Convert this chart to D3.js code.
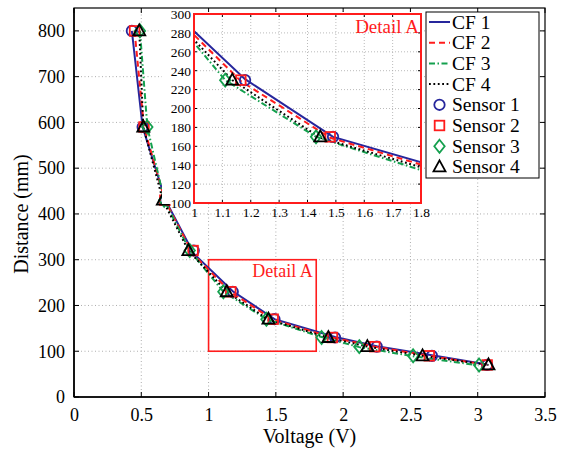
<!DOCTYPE html>
<html><head><meta charset="utf-8">
<script src="https://cdn.jsdelivr.net/npm/d3@7"></script>
<style>
html,body{margin:0;padding:0;background:#fff;}
svg{display:block;}
svg text{font-family:"Liberation Serif","Times New Roman",serif !important;}
</style></head>
<body><svg id="c" width="565" height="451"></svg>
<script>
// ---- data ----
const distance = [800, 590, 430, 320, 230, 170, 130, 110, 90, 70];
const voltS1 = [0.43, 0.51, 0.68, 0.89, 1.18, 1.49, 1.94, 2.25, 2.66, 3.07];
const voltS2 = [0.45, 0.52, 0.675, 0.885, 1.165, 1.48, 1.92, 2.235, 2.64, 3.07];
const voltS3 = [0.49, 0.545, 0.67, 0.86, 1.11, 1.43, 1.84, 2.12, 2.52, 3.01];
const voltS4 = [0.485, 0.515, 0.66, 0.85, 1.135, 1.445, 1.89, 2.18, 2.59, 3.08];
const fitCF1 = [800, 590, 430, 313, 231, 170, 131, 111, 91, 71];
const fitCF2 = [800, 590, 430, 312, 229, 169, 130, 110, 90, 70];
const fitCF3 = [800, 590, 430, 320, 230, 170, 131, 109, 89, 69];
const fitCF4 = [800, 590, 430, 320, 230, 169, 130, 110, 90, 70];
const xTicks = [0, 0.5, 1, 1.5, 2, 2.5, 3, 3.5];
const yTicks = [0, 100, 200, 300, 400, 500, 600, 700, 800];
const insetXTicks = [1, 1.1, 1.2, 1.3, 1.4, 1.5, 1.6, 1.7, 1.8];
const insetYTicks = [100, 120, 140, 160, 180, 200, 220, 240, 260, 280, 300];
const detailBox = {x0: 1, x1: 1.8, y0: 100, y1: 300};
const seriesNames = ["CF 1","CF 2","CF 3","CF 4","Sensor 1","Sensor 2","Sensor 3","Sensor 4"];

const blue = "#26269c", red = "#ff1c1c", green = "#14a04e", black = "#000";
const cfStyles = [
  {c: blue, dash: null},
  {c: red, dash: "6,4"},
  {c: green, dash: "6,2.5,1.5,2.5"},
  {c: black, dash: "1.8,2.6"}
];
const sensors = [
  {v: voltS1, c: blue, sym: "circle"},
  {v: voltS2, c: red, sym: "square"},
  {v: voltS3, c: green, sym: "diamond"},
  {v: voltS4, c: black, sym: "triangle"}
];
const cfs = [
  {v: voltS1, d: fitCF1}, {v: voltS2, d: fitCF2}, {v: voltS3, d: fitCF3}, {v: voltS4, d: fitCF4}
];

const svg = d3.select("#c");
const X0 = 74, X1 = 545, Y0 = 397, Y1 = 8;
const x = d3.scaleLinear().domain([0, 3.5]).range([X0, X1]);
const y = d3.scaleLinear().domain([0, 850]).range([Y0, Y1]);

function marker(g, sym, cx, cy, color) {
  if (sym === "circle") {
    g.append("circle").attr("cx", cx).attr("cy", cy).attr("r", 5.2)
      .attr("fill", "none").attr("stroke", color).attr("stroke-width", 1.8);
  } else if (sym === "square") {
    g.append("rect").attr("x", cx - 4.8).attr("y", cy - 4.8).attr("width", 9.6).attr("height", 9.6)
      .attr("fill", "none").attr("stroke", color).attr("stroke-width", 1.8);
  } else if (sym === "diamond") {
    g.append("path").attr("d", `M${cx},${cy-6.5}L${cx+5.2},${cy}L${cx},${cy+6.5}L${cx-5.2},${cy}Z`)
      .attr("fill", "none").attr("stroke", color).attr("stroke-width", 1.8);
  } else {
    g.append("path").attr("d", `M${cx},${cy-6.5}L${cx+6},${cy+4.5}L${cx-6},${cy+4.5}Z`)
      .attr("fill", "none").attr("stroke", color).attr("stroke-width", 1.8);
  }
}

// main grid
const grid = svg.append("g");
xTicks.slice(1, -1).forEach(t => grid.append("line").attr("x1", x(t)).attr("x2", x(t)).attr("y1", Y0).attr("y2", Y1)
  .attr("stroke", "#999").attr("stroke-width", 0.8).attr("stroke-dasharray", "1,2.5"));
yTicks.slice(1).forEach(t => grid.append("line").attr("x1", X0).attr("x2", X1).attr("y1", y(t)).attr("y2", y(t))
  .attr("stroke", "#999").attr("stroke-width", 0.8).attr("stroke-dasharray", "1,2.5"));

// axes
const xAxis = svg.append("g").attr("transform", `translate(0,${Y0})`)
  .call(d3.axisBottom(x).tickValues(xTicks).tickSize(0).tickPadding(11).tickFormat(d3.format("")));
const yAxis = svg.append("g").attr("transform", `translate(${X0},0)`)
  .call(d3.axisLeft(y).tickValues(yTicks).tickSize(0).tickPadding(9).tickFormat(d3.format("")));
[xAxis, yAxis].forEach(a => {
  a.attr("font-family", null).attr("font-size", null);
  a.select(".domain").remove();
  a.selectAll("text").style("font-size", "18px").attr("fill", "#000");
});
// inward ticks all sides
const tk = svg.append("g").attr("stroke", "#000").attr("stroke-width", 1);
xTicks.forEach(t => {
  tk.append("line").attr("x1", x(t)).attr("x2", x(t)).attr("y1", Y0).attr("y2", Y0 - 5);
  tk.append("line").attr("x1", x(t)).attr("x2", x(t)).attr("y1", Y1).attr("y2", Y1 + 5);
});
yTicks.forEach(t => {
  tk.append("line").attr("x1", X0).attr("x2", X0 + 5).attr("y1", y(t)).attr("y2", y(t));
  tk.append("line").attr("x1", X1).attr("x2", X1 - 5).attr("y1", y(t)).attr("y2", y(t));
});

// detail box
svg.append("rect").attr("x", x(detailBox.x0)).attr("y", y(detailBox.y1))
  .attr("width", x(detailBox.x1) - x(detailBox.x0)).attr("height", y(detailBox.y0) - y(detailBox.y1))
  .attr("fill", "none").attr("stroke", red).attr("stroke-width", 1.6);
svg.append("text").attr("x", x(1.55)).attr("y", y(263)).attr("text-anchor", "middle")
  .style("font-size", "18px").attr("fill", red).text("Detail A");

// main lines & markers
function drawSeries(g, xs, ys) {
  cfs.forEach((cf, i) => {
    const line = d3.line().x((d, j) => xs(cf.v[j])).y(d => ys(d));
    g.append("path").attr("d", line(cf.d)).attr("fill", "none")
      .attr("stroke", cfStyles[i].c).attr("stroke-width", 2)
      .attr("stroke-dasharray", cfStyles[i].dash);
  });
  sensors.forEach(s => {
    s.v.forEach((v, j) => marker(g, s.sym, xs(v), ys(distance[j]), s.c));
  });
}
const mainG = svg.append("g");
drawSeries(mainG, x, y);

// frame
svg.append("rect").attr("x", X0).attr("y", Y1).attr("width", X1 - X0).attr("height", Y0 - Y1)
  .attr("fill", "none").attr("stroke", "#000").attr("stroke-width", 1.2);
svg.append("line").attr("x1", X0).attr("x2", X1).attr("y1", Y0).attr("y2", Y0).attr("stroke", "#000").attr("stroke-width", 1.6);
svg.append("line").attr("x1", X0).attr("x2", X0).attr("y1", Y1).attr("y2", Y0).attr("stroke", "#000").attr("stroke-width", 1.6);

// axis titles
svg.append("text").attr("x", (X0 + X1) / 2).attr("y", 443).attr("text-anchor", "middle")
  .style("font-size", "20px").text("Voltage (V)");
svg.append("text").attr("transform", `translate(28,214) rotate(-90)`).attr("text-anchor", "middle")
  .style("font-size", "20px").text("Distance (mm)");

// ---- inset ----
const IX0 = 194, IX1 = 421, IY0 = 203, IY1 = 14;
svg.append("rect").attr("x", 162).attr("y", 12).attr("width", IX1 - 162 + 2).attr("height", IY0 - 12 + 1).attr("fill", "#fff");
const ix = d3.scaleLinear().domain([1, 1.8]).range([IX0, IX1]);
const iy = d3.scaleLinear().domain([100, 300]).range([IY0, IY1]);
const ig = svg.append("g");
insetXTicks.slice(1, -1).forEach(t => ig.append("line").attr("x1", ix(t)).attr("x2", ix(t)).attr("y1", IY0).attr("y2", IY1)
  .attr("stroke", "#aaa").attr("stroke-width", 0.8).attr("stroke-dasharray", "1,2"));
insetYTicks.slice(1, -1).forEach(t => ig.append("line").attr("x1", IX0).attr("x2", IX1).attr("y1", iy(t)).attr("y2", iy(t))
  .attr("stroke", "#aaa").attr("stroke-width", 0.8).attr("stroke-dasharray", "1,2"));
const ixAxis = svg.append("g").attr("transform", `translate(0,${IY0})`)
  .call(d3.axisBottom(ix).tickValues(insetXTicks).tickSize(0).tickPadding(4).tickFormat(d3.format("")));
const iyAxis = svg.append("g").attr("transform", `translate(${IX0},0)`)
  .call(d3.axisLeft(iy).tickValues(insetYTicks).tickSize(0).tickPadding(3).tickFormat(d3.format("")));
[ixAxis, iyAxis].forEach(a => {
  a.attr("font-family", null).attr("font-size", null);
  a.select(".domain").remove();
  a.selectAll("text").style("font-size", "13.5px").attr("fill", "#000");
});
const itk = svg.append("g").attr("stroke", "#000").attr("stroke-width", 1);
insetXTicks.forEach(t => {
  itk.append("line").attr("x1", ix(t)).attr("x2", ix(t)).attr("y1", IY0).attr("y2", IY0 - 3);
  itk.append("line").attr("x1", ix(t)).attr("x2", ix(t)).attr("y1", IY1).attr("y2", IY1 + 3);
});
insetYTicks.forEach(t => {
  itk.append("line").attr("x1", IX0).attr("x2", IX0 + 3).attr("y1", iy(t)).attr("y2", iy(t));
  itk.append("line").attr("x1", IX1).attr("x2", IX1 - 3).attr("y1", iy(t)).attr("y2", iy(t));
});
svg.append("defs").append("clipPath").attr("id", "iclip").append("rect")
  .attr("x", IX0).attr("y", IY1).attr("width", IX1 - IX0).attr("height", IY0 - IY1);
const insetG = svg.append("g").attr("clip-path", "url(#iclip)");
drawSeries(insetG, ix, iy);
svg.append("text").attr("x", 419).attr("y", 33).attr("text-anchor", "end")
  .style("font-size", "19px").attr("fill", red).text("Detail A");
svg.append("rect").attr("x", IX0).attr("y", IY1).attr("width", IX1 - IX0).attr("height", IY0 - IY1)
  .attr("fill", "none").attr("stroke", red).attr("stroke-width", 2);

// ---- legend ----
const LX0 = 426, LX1 = 539, LY0 = 12, LY1 = 178;
const lg = svg.append("g");
lg.append("rect").attr("x", LX0).attr("y", LY0).attr("width", LX1 - LX0).attr("height", LY1 - LY0)
  .attr("fill", "#fff").attr("stroke", "#000").attr("stroke-width", 1);
seriesNames.forEach((name, i) => {
  const cy = 22 + i * 20.7;
  if (i < 4) {
    lg.append("line").attr("x1", 429).attr("x2", 450).attr("y1", cy).attr("y2", cy)
      .attr("stroke", cfStyles[i].c).attr("stroke-width", 2).attr("stroke-dasharray", cfStyles[i].dash);
  } else {
    marker(lg, sensors[i - 4].sym, 439.5, cy, sensors[i - 4].c);
  }
  lg.append("text").attr("x", 452).attr("y", cy + 6.5).style("font-size", "19.5px").text(name);
});
</script></body></html>
